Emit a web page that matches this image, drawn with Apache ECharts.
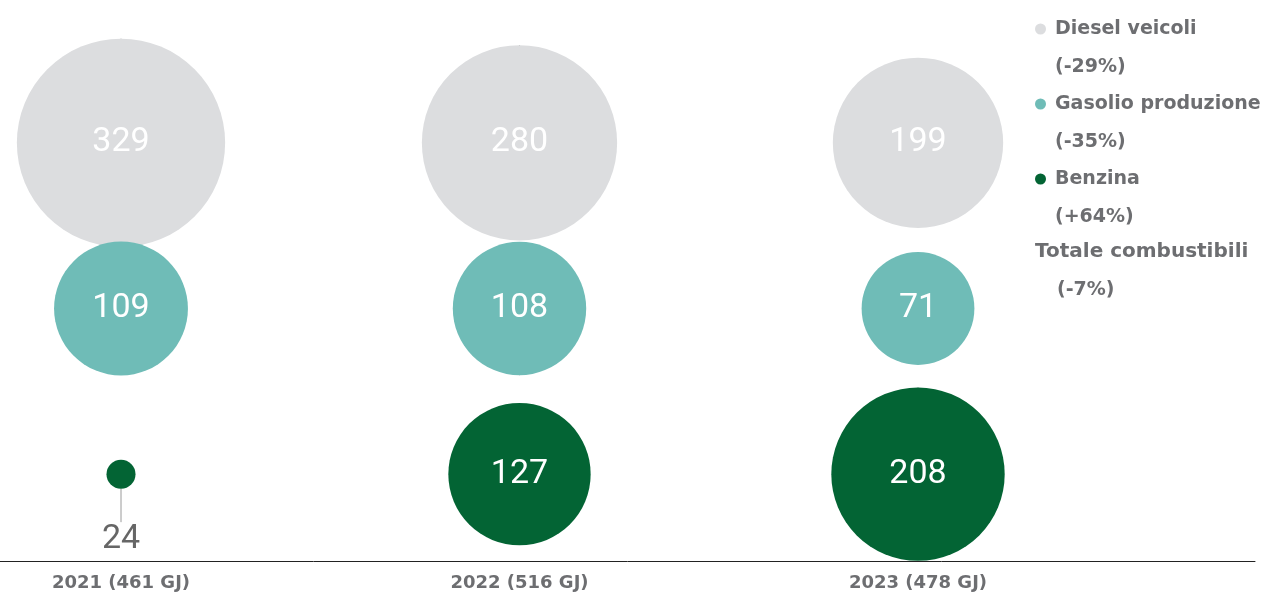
<!DOCTYPE html>
<html>
<head>
<meta charset="utf-8">
<script src="https://cdn.jsdelivr.net/npm/echarts@6/dist/echarts.min.js"></script>
<style>
  html, body { margin: 0; padding: 0; background: #fff; }
  #bubble-chart { width: 1261px; height: 594px; }
</style>
</head>
<body>
<div id="bubble-chart"></div>
<script>
const years = ['2021 (461 GJ)', '2022 (516 GJ)', '2023 (478 GJ)'];
const fuels = ['Diesel veicoli', 'Gasolio produzione', 'Benzina'];
const fuelChanges = ['(-29%)', '(-35%)', '(+64%)'];
const dieselValues = [329, 280, 199];
const gasolioValues = [109, 108, 71];
const benzinaValues = [24, 127, 208];
const totalName = 'Totale combustibili';
const totalChange = '(-7%)';

const colors = ['#dcdddf', '#6fbcb7', '#036434'];
const textGrey = '#6d6e71';
const boldFont = 'DejaVu Sans';

const chartDom = document.getElementById('bubble-chart');
const myChart = echarts.init(chartDom);

// small values are drawn as a pin with the number underneath
const bubbleSize = v => (v < 50 ? 29 : 20.5 * Math.pow(v, 0.4));

const makeSeries = (name, values, row) => ({
  name: name,
  type: 'scatter',
  xAxisIndex: 0,
  yAxisIndex: 0,
  symbolSize: val => bubbleSize(val[2]),
  itemStyle: { color: colors[row], opacity: 1 },
  label: {
    show: true,
    position: 'inside',
    color: '#fff',
    fontFamily: 'Roboto',
    fontSize: 34,
    formatter: p => p.value[2]
  },
  labelLine: { show: true, lineStyle: { color: '#9a9a9a', width: 1 } },
  labelLayout: p => (values[p.dataIndex] < 50 ? { dy: 65 } : {}),
  data: values.map((v, i) => {
    if (v < 50) {
      return {
        value: [i, row, v],
        label: { color: '#666' }
      };
    }
    return [i, row, v];
  })
});

const option = {
  animation: false,
  grid: [
    { left: 121, right: 343, top: 60, bottom: 37 },
    { left: 0, right: 6, top: 54, bottom: 33 }
  ],
  xAxis: [
    {
      type: 'category',
      gridIndex: 0,
      data: years,
      boundaryGap: false,
      axisLine: { show: false },
      axisTick: { show: false },
      axisLabel: {
        margin: 17,
        color: textGrey,
        fontFamily: boldFont,
        fontWeight: 'bold',
        fontSize: 18
      }
    },
    {
      type: 'category',
      gridIndex: 1,
      data: years,
      axisLine: { show: true, lineStyle: { color: '#222', width: 1 } },
      axisTick: { show: false },
      axisLabel: { show: false }
    }
  ],
  yAxis: [
    { type: 'category', gridIndex: 0, data: fuels, inverse: true, show: false },
    { type: 'value', gridIndex: 1, show: false }
  ],
  legend: {
    orient: 'vertical',
    left: 1030,
    top: -33,
    icon: 'circle',
    itemWidth: 11,
    itemHeight: 11,
    itemGap: -39,
    data: fuels,
    // blank first line keeps the icon level with the fuel name
    formatter: name => '\n' + name + '\n' + fuelChanges[fuels.indexOf(name)],
    textStyle: {
      color: textGrey,
      fontFamily: boldFont,
      fontWeight: 'bold',
      fontSize: 19,
      lineHeight: 38,
      padding: [0, 0, 0, 4]
    }
  },
  title: {
    left: 1030,
    top: 228,
    text: '{a|' + totalName + '}\n{b|' + totalChange + '}',
    textStyle: {
      rich: {
        a: { color: textGrey, fontFamily: boldFont, fontWeight: 'bold', fontSize: 20, lineHeight: 38 },
        b: { color: textGrey, fontFamily: boldFont, fontWeight: 'bold', fontSize: 19, lineHeight: 38, padding: [0, 0, 0, 22] }
      }
    }
  },
  series: [
    makeSeries(fuels[0], dieselValues, 0),
    makeSeries(fuels[1], gasolioValues, 1),
    makeSeries(fuels[2], benzinaValues, 2)
  ]
};

option && myChart.setOption(option);
</script>
</body>
</html>
